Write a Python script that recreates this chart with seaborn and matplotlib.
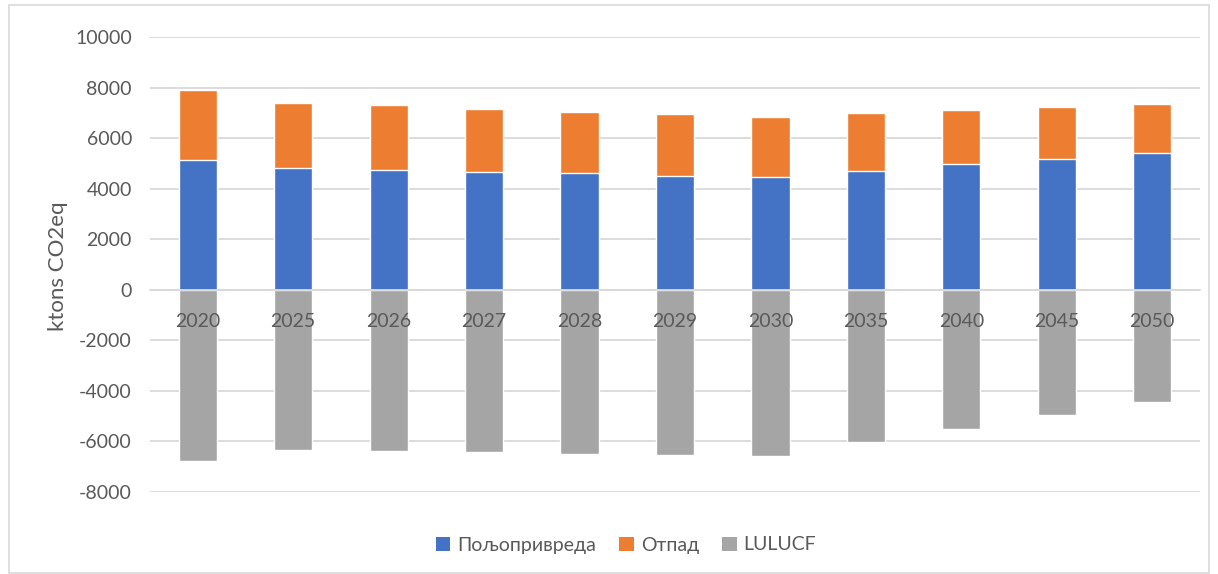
import matplotlib
matplotlib.use("Agg")
import matplotlib.pyplot as plt
from matplotlib.patches import Patch, Rectangle
import seaborn as sns
import pandas as pd

# Emissions by sector, ktons CO2eq
years = ["2020", "2025", "2026", "2027", "2028", "2029", "2030", "2035", "2040", "2045", "2050"]
agriculture = [5120, 4820, 4720, 4660, 4620, 4520, 4470, 4700, 4970, 5170, 5410]
waste = [2780, 2570, 2580, 2500, 2430, 2440, 2380, 2300, 2150, 2080, 1940]
lulucf = [-6770, -6340, -6390, -6430, -6480, -6520, -6580, -6040, -5500, -4960, -4440]

series_names = ["Пољопривреда", "Отпад", "LULUCF"]
colors = {"Пољопривреда": "#4472C4", "Отпад": "#ED7D31", "LULUCF": "#A5A5A5"}

df = pd.DataFrame({
    "year": years,
    "agri": agriculture,
    "waste": waste,
    "lulucf": lulucf,
})
df["total"] = df["agri"] + df["waste"]

sns.set_theme(style="white")
plt.rcParams["font.family"] = ["Lato", "DejaVu Sans"]
text_color = "#595959"
grid_color = "#D9D9D9"

fig = plt.figure(figsize=(12.18, 5.74), dpi=100)
ax = fig.add_axes([150 / 1218, 1 - 492 / 574, 1050 / 1218, 455 / 574])

# Horizontal gridlines behind the bars
yticks = list(range(-8000, 10001, 2000))
for t in yticks:
    ax.axhline(t, color=grid_color, lw=1.3, zorder=0)

bar_w = 0.4
# Stack: total (orange) underneath, agriculture (blue) over it, LULUCF negative
sns.barplot(data=df, x="year", y="total", order=years, color=colors["Отпад"],
            width=bar_w, saturation=1, ax=ax, zorder=2)
sns.barplot(data=df, x="year", y="agri", order=years, color=colors["Пољопривреда"],
            width=bar_w, saturation=1, ax=ax, zorder=2)
sns.barplot(data=df, x="year", y="lulucf", order=years, color=colors["LULUCF"],
            width=bar_w, saturation=1, ax=ax, zorder=2)

# Axis drawn above the bars so the category labels overlay them
ax.set_axisbelow(False)
ax.set_xlim(-0.5, len(years) - 0.5)
ax.set_ylim(-8000, 10000)
ax.set_yticks(yticks)
ax.set_yticklabels([str(t) for t in yticks])
ax.tick_params(axis="y", length=0, pad=13, labelsize=14, labelcolor=text_color)

# Category axis sits on the zero line
ax.spines["bottom"].set_position(("data", 0))
ax.spines["bottom"].set_color(grid_color)
for side in ["top", "right", "left"]:
    ax.spines[side].set_visible(False)
ax.tick_params(axis="x", length=0, pad=17, labelsize=14, labelcolor=text_color)
ax.set_xlabel("")
ax.set_ylabel("")

fig.text(58 / 1218, 1 - 266 / 574, "ktons CO2eq", rotation=90, ha="center", va="center",
         fontsize=16, color=text_color)

handles = [Patch(facecolor=colors[n], edgecolor="none") for n in series_names]
fig.legend(handles, series_names, loc="center", bbox_to_anchor=(626 / 1218, 1 - 545 / 574),
           ncol=3, frameon=False, fontsize=14, labelcolor=text_color,
           handlelength=0.75, handleheight=0.75, handletextpad=0.35, columnspacing=1.2)

# Chart area border
fig.patches.append(Rectangle((9 / 1218, 0.002), 1200 / 1218, 1 - 6 / 574, transform=fig.transFigure,
                             fill=False, edgecolor=grid_color, lw=1.2))

fig.savefig("out.png", dpi=100, facecolor="white")
